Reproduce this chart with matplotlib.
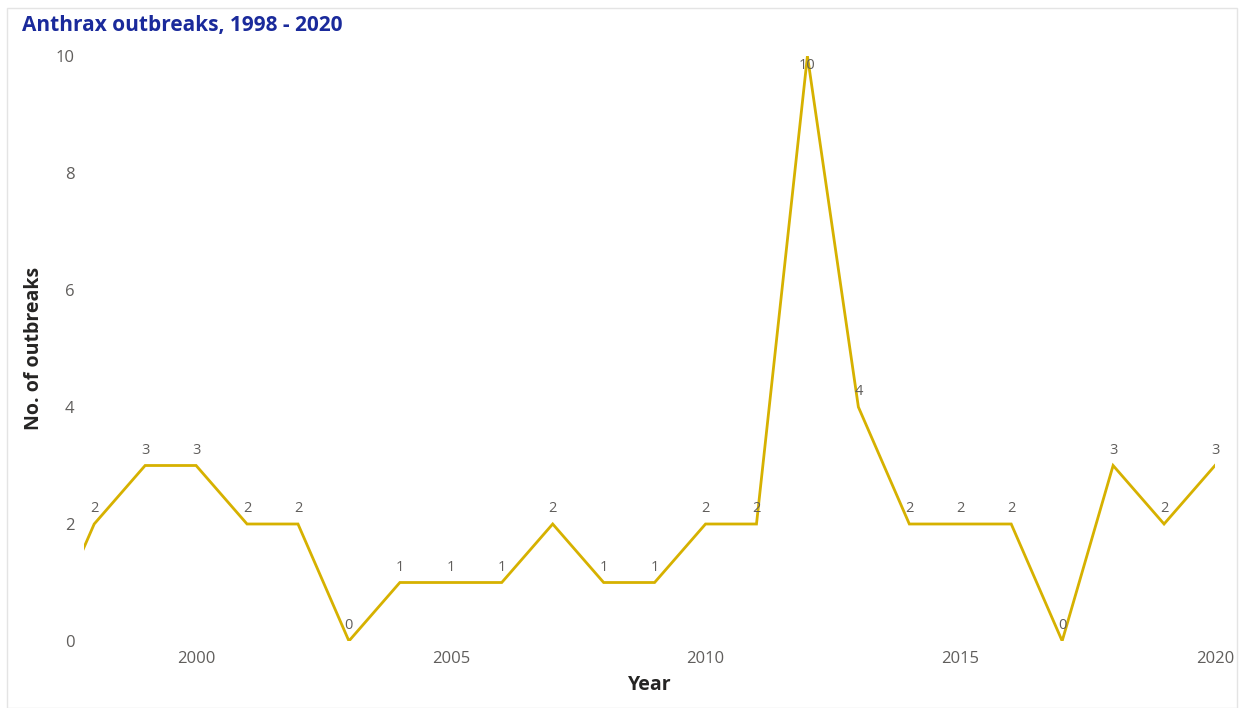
import matplotlib.pyplot as plt
from matplotlib.patches import Rectangle

years = [1997, 1998, 1999, 2000, 2001, 2002, 2003, 2004, 2005, 2006, 2007, 2008,
         2009, 2010, 2011, 2012, 2013, 2014, 2015, 2016, 2017, 2018, 2019, 2020]
outbreaks = [0, 2, 3, 3, 2, 2, 0, 1, 1, 1, 2, 1,
             1, 2, 2, 10, 4, 2, 2, 2, 0, 3, 2, 3]
y_ticks = [0, 2, 4, 6, 8, 10]
x_ticks = [2000, 2005, 2010, 2015, 2020]

plt.rcParams["font.family"] = ["Open Sans", "DejaVu Sans"]

W, H = 1239, 708
fig = plt.figure(figsize=(W / 100, H / 100), dpi=100)
fig.patch.set_facecolor("white")
fig.add_artist(Rectangle((7 / W, 0), 1 - 9 / W, 1 - 8 / H, transform=fig.transFigure,
                         facecolor="none", edgecolor="#E4E4E4", lw=1))

ax = fig.add_axes([84 / W, 1 - 641 / H, (1215 - 84) / W, (641 - 56) / H])
ax.plot(years, outbreaks, color="#D6B100", lw=2, solid_joinstyle="miter")
ax.set_xlim(1997.8, 2020)
ax.set_ylim(0, 10)

# data labels (1997 sits off the axis, so no label)
for yr, v in zip(years, outbreaks):
    if yr < 1998:
        continue
    off = -7 if v == max(outbreaks) else 11
    ax.annotate(str(v), (yr, v), xytext=(0, off), textcoords="offset points",
                ha="center", va="center", fontsize=10.5, color="#605E5C",
                annotation_clip=False)

ax.set_yticks(y_ticks)
ax.set_xticks(x_ticks)
ax.tick_params(length=0, labelsize=12, labelcolor="#605E5C")
ax.tick_params(axis="y", pad=7)
ax.tick_params(axis="x", pad=7)
for s in ax.spines.values():
    s.set_visible(False)

ax.set_xlabel("Year", fontsize=14, fontweight="bold", color="#252423", labelpad=6)
ax.set_ylabel("No. of outbreaks", fontsize=14, fontweight="bold", color="#252423", labelpad=8)

fig.text(22 / W, 1 - 25 / H, "Anthrax outbreaks, 1998 - 2020", fontsize=15, fontweight="bold",
         color="#1A2A9B", ha="left", va="center")

fig.savefig("out.png", dpi=100, facecolor="white")
